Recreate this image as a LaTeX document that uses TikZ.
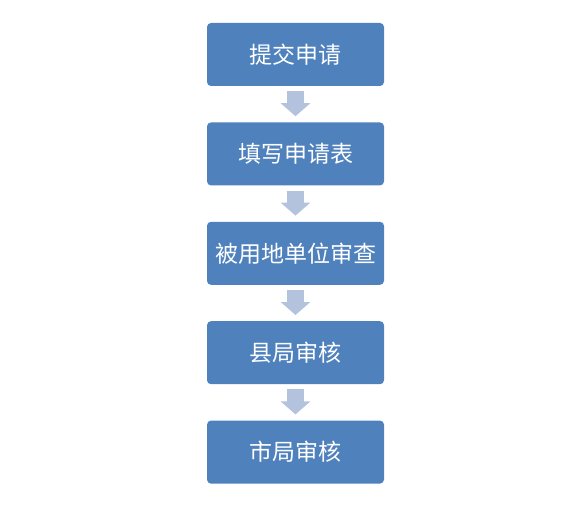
\documentclass[tikz,border=0pt]{standalone}
\usepackage{fontspec}
\newfontfamily\cjk{Noto Sans CJK SC}
\usetikzlibrary{positioning, arrows.meta, calc}
\definecolor{boxblue}{HTML}{4F81BD}
\definecolor{arrowblue}{HTML}{B3C3DE}

\begin{document}
\begin{tikzpicture}[x=1pt, y=-1pt,
	stepbox/.style={draw=none, fill=boxblue, rounded corners=4pt, minimum width=177pt, minimum height=63pt, inner sep=0pt, text=white, font=\cjk\fontsize{23pt}{26pt}\selectfont},
	flowarrow/.style={draw=arrowblue, line width=17pt, -{Triangle[width=29pt, length=13pt]}}]
			\useasboundingbox (0,0) rectangle (575,508);
			\node[stepbox] (submit) at (295.5,54.5) {提交申请};
			\node[stepbox, below=36pt of submit] (form) {填写申请表};
			\node[stepbox, below=36pt of form] (unit) {被用地单位审查};
			\node[stepbox, below=36pt of unit] (county) {县局审核};
			\node[stepbox, below=36pt of county] (city) {市局审核};
			\draw[flowarrow] ($(submit.south)+(0,5)$) -- ($(form.north)-(0,6)$);
			\draw[flowarrow] ($(form.south)+(0,5)$) -- ($(unit.north)-(0,6)$);
			\draw[flowarrow] ($(unit.south)+(0,5)$) -- ($(county.north)-(0,6)$);
			\draw[flowarrow] ($(county.south)+(0,5)$) -- ($(city.north)-(0,6)$);
		\end{tikzpicture}
\end{document}
